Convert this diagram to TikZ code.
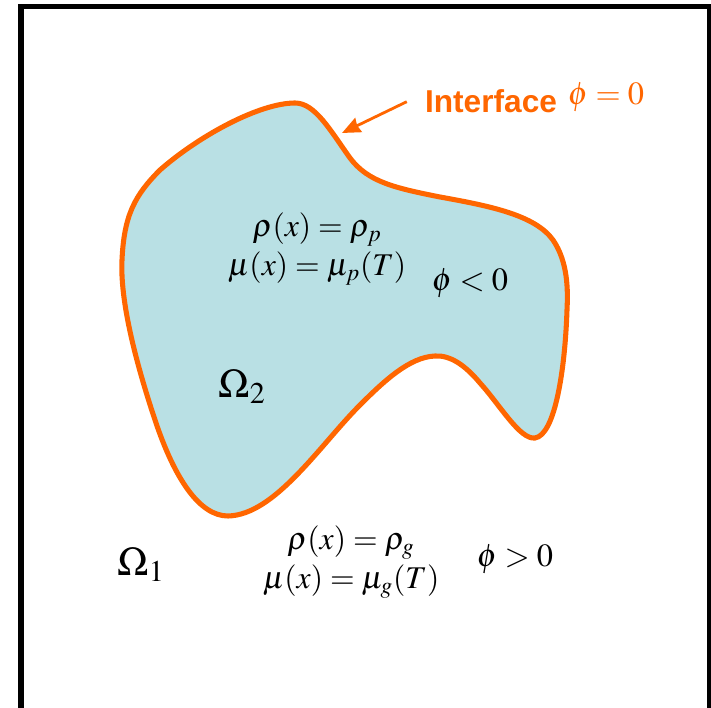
\documentclass[tikz,border=0pt]{standalone}
\usepackage{mathptmx}
\usepackage{fontspec}
\setmainfont{Liberation Serif}
\newfontfamily\ifacefont{Liberation Sans}
\usetikzlibrary{arrows.meta,positioning}
\definecolor{ifaceorange}{RGB}{255,102,0}
\definecolor{dropblue}{RGB}{185,224,228}

\begin{document}
\begin{tikzpicture}[
    x=0.025cm, y=-0.025cm,
    eq/.style={font=\fontsize{22.5}{28}\selectfont, align=center, inner sep=0pt},
    dom/.style={font=\fontsize{29}{34}\selectfont, inner sep=0pt, anchor=base},
    sign/.style={font=\fontsize{23}{28}\selectfont, inner sep=0pt, anchor=base},
    interface/.style={draw=ifaceorange, line width=3.6pt, fill=dropblue},
    arrow/.style={-{Stealth[length=13pt,width=11pt,inset=1pt]}, line width=2pt, draw=ifaceorange}
]
    \useasboundingbox (0,0) rectangle (711,708);
    \clip (0,0) rectangle (711,708);

    % outer domain frame
    \draw[line width=4pt] (21,730) -- (21,6.5) -- (709.5,6.5) -- (709.5,730);

    % the droplet
    \draw[interface] (295,103)
        .. controls (315,103) and (330,130) .. (350,158)
        .. controls (368,182) and (395,188) .. (440,197)
        .. controls (490,206) and (535,215) .. (553,240)
        .. controls (568,262) and (568,290) .. (567,310)
        .. controls (565,370) and (555,435) .. (535,438)
        .. controls (520,440) and (500,405) .. (480,383)
        .. controls (465,365) and (450,355) .. (435,356)
        .. controls (410,357) and (385,380) .. (360,405)
        .. controls (320,445) and (275,515) .. (228,516)
        .. controls (200,516) and (175,480) .. (155,420)
        .. controls (135,360) and (120,300) .. (122,260)
        .. controls (124,215) and (135,195) .. (160,170)
        .. controls (200,135) and (260,103) .. (295,103) -- cycle;

    % labels inside
    \node[eq] (propp) at (317,249) {$\rho(x)=\rho_{p}$\\ $\mu(x)=\mu_{p}(T)$};
    \node[sign] (phineg) at (470,291) {$\phi<0$};
    \node[dom] (omtwo) at (242,397) {$\Omega_{2}$};

    % labels outside
    \node[eq] (propg) at (351,562) {$\rho(x)=\rho_{g}$\\ $\mu(x)=\mu_{g}(T)$};
    \node[sign] (phipos) at (515,566) {$\phi>0$};
    \node[dom] (omone) at (141,575) {$\Omega_{1}$};

    % interface label
    \node[anchor=base, inner xsep=12.8pt, inner ysep=0pt, text=ifaceorange,
          font=\ifacefont\bfseries\fontsize{22.5}{27}\selectfont] (iface) at (491,113) {Interface};
    \node[sign, text=ifaceorange] (phizero) at (606,105) {$\phi=0$};
    \coordinate (tip) at (342,133);
    \draw[arrow] (iface.west) -- (tip);
\end{tikzpicture}
\end{document}
